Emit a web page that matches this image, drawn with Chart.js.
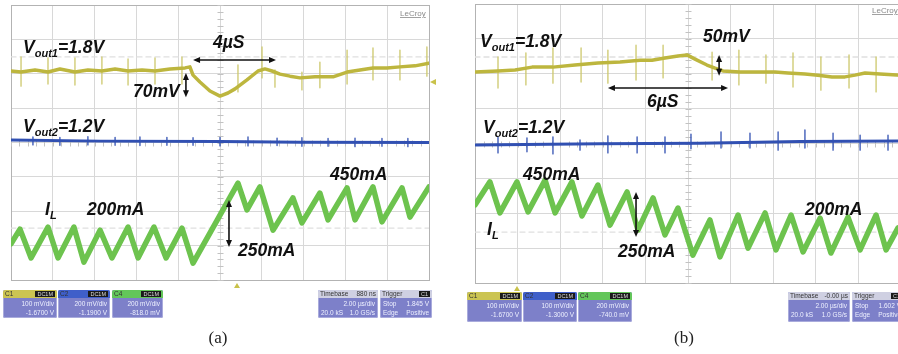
<!DOCTYPE html>
<html><head><meta charset="utf-8">
<script src="https://cdn.jsdelivr.net/npm/chart.js@4.4.1/dist/chart.umd.min.js"></script>
<style>
html,body{margin:0;padding:0;background:#fff;width:898px;height:354px;overflow:hidden;position:relative;font-family:"Liberation Sans",Arial,sans-serif;}
canvas{position:absolute;}
#ca{left:0;top:0;}
#cb{left:460px;top:0;}
#ov{position:absolute;left:0;top:0;}
.sb{position:absolute;background:#7d80c9;border-radius:2px;font-size:6.5px;color:#eef0ff;overflow:hidden;box-shadow:0 0 0 1px #a9abdc inset;}
.sb .hd{height:8px;display:flex;justify-content:space-between;align-items:center;padding:0 2px;color:#333;font-size:6.5px;line-height:8px;}
.sb .bd{padding:1px 3px 0 3px;line-height:9px;}
.sb .row{display:flex;justify-content:space-between;}
.badge{background:#1a1a1a;color:#ddd;padding:0 2px;font-size:5.5px;line-height:6px;}
</style></head>
<body>
<canvas id="ca" width="445" height="290"></canvas>
<canvas id="cb" width="450" height="292"></canvas>
<svg id="ov" width="898" height="354" xmlns="http://www.w3.org/2000/svg">
 <g font-family="Liberation Sans, Arial, sans-serif" font-weight="bold" font-style="italic" font-size="17.5" fill="#111">
  <text x="23" y="53">V<tspan font-size="11" dy="4">out1</tspan><tspan dy="-4">=1.8V</tspan></text>
  <text x="213" y="48">4µS</text>
  <text x="133" y="97">70mV</text>
  <text x="23" y="132">V<tspan font-size="11" dy="4">out2</tspan><tspan dy="-4">=1.2V</tspan></text>
  <text x="330" y="180">450mA</text>
  <text x="45" y="215">I<tspan font-size="11" dy="4">L</tspan></text>
  <text x="87" y="215">200mA</text>
  <text x="238" y="256">250mA</text>
  <text x="480" y="47">V<tspan font-size="11" dy="4">out1</tspan><tspan dy="-4">=1.8V</tspan></text>
  <text x="703" y="42">50mV</text>
  <text x="647" y="107">6µS</text>
  <text x="483" y="133">V<tspan font-size="11" dy="4">out2</tspan><tspan dy="-4">=1.2V</tspan></text>
  <text x="523" y="180">450mA</text>
  <text x="487" y="235">I<tspan font-size="11" dy="4">L</tspan></text>
  <text x="618" y="257">250mA</text>
  <text x="805" y="215">200mA</text>
 </g>
 <g font-family="Liberation Sans, Arial, sans-serif" font-size="8" fill="#8a8a8a" text-decoration="underline">
  <text x="400" y="16">LeCroy</text>
  <text x="872" y="13">LeCroy</text>
 </g>
 <g font-family="Liberation Serif, Times New Roman, serif" font-size="17" fill="#222" text-anchor="middle">
  <text x="218" y="343">(a)</text>
  <text x="684" y="343">(b)</text>
 </g>
 <polygon points="237,283 234,288 240,288" fill="#c9c24a"/>
 <polygon points="517,286 514,291 520,291" fill="#c9c24a"/>
 <polygon points="430,82 436,79 436,85" fill="#c9c24a"/>
</svg>

<script>
// ---------- DATA (x in µs, 2 µs/div; y in screen divisions 0..8) ----------
// Panel (a): load step 200mA -> 450mA
const ilA = [[0,1.05],[0.43,1.48],[0.96,0.64],[1.77,1.54],[2.25,0.64],[3.01,1.54],[3.49,0.52],[4.26,1.45],[4.83,0.64],[5.60,1.54],[6.08,0.64],[6.84,1.54],[7.42,0.64],[8.18,1.51],[8.71,0.49],[10.86,2.82],[11.29,2.04],[11.91,2.71],[12.54,1.45],[13.49,2.39],[13.92,1.66],[14.78,2.53],[15.17,1.75],[16.08,2.68],[16.46,1.75],[17.32,2.71],[17.75,1.69],[18.71,2.68],[19.09,1.83],[20.0,2.71]];
const v1A = [[0,6.08],[0.48,6.05],[1.15,6.11],[1.77,6.05],[2.34,6.14],[3.06,6.05],[3.68,6.11],[4.35,6.08],[4.98,6.14],[5.60,6.08],[6.27,6.11],[6.89,6.08],[7.61,6.14],[8.33,6.17],[8.56,6.20],[8.71,5.96],[9.04,5.76],[9.52,5.50],[10.0,5.35],[10.38,5.44],[10.72,5.56],[11.29,5.82],[11.82,6.08],[12.15,6.14],[12.49,6.08],[12.87,5.99],[13.35,5.93],[13.83,5.88],[14.55,5.91],[15.41,5.91],[16.08,6.05],[16.70,6.11],[17.32,6.17],[17.99,6.17],[18.61,6.20],[19.33,6.23],[20,6.31]];
const v1SpikesA = [[0.48,6.49,5.64],[1.77,6.46,5.70],[3.06,6.46,5.67],[4.35,6.49,5.70],[5.60,6.43,5.67],[6.89,6.46,5.70],[8.18,6.49,5.70],[10.86,6.26,5.47],[12.01,6.78,5.88],[12.63,6.11,5.61],[13.92,6.05,5.53],[14.78,6.34,5.59],[16.08,6.69,5.70],[17.32,6.75,5.82],[18.61,6.69,5.82],[19.90,6.78,5.93]];
const v2A = [[0,4.07],[4.26,4.04],[10.0,4.03],[13.83,4.01],[20,4.0]];
const v2SpikesA = [[1.05,4.16,3.93],[2.34,4.15,3.92],[3.68,4.17,3.93],[4.98,4.15,3.92],[6.17,4.16,3.91],[7.46,4.15,3.92],[8.71,4.14,3.92],[10.0,4.15,3.90],[11.34,4.16,3.90],[12.73,4.13,3.91],[13.92,4.14,3.89],[15.17,4.12,3.89],[16.46,4.13,3.88],[17.75,4.12,3.89],[18.99,4.12,3.88]];
const refA = [6.49, 1.51];
const arrowsA = [{x1:8.71,y1:6.40,x2:12.68,y2:6.40},{x1:8.37,y1:6.02,x2:8.37,y2:5.32},{x1:10.43,y1:2.33,x2:10.43,y2:0.96}];

// Panel (b): load step 450mA -> 200mA
const ilB = [[0,2.24],[0.70,2.90],[1.17,2.01],[1.97,2.90],[2.49,2.04],[3.29,2.95],[3.76,2.01],[4.55,2.90],[5.02,1.92],[5.77,2.81],[6.34,1.66],[7.14,2.61],[7.65,1.52],[8.36,2.44],[8.92,1.38],[9.53,2.15],[10.23,0.80],[11.03,1.81],[11.50,0.75],[12.35,1.95],[12.82,1.00],[13.62,2.01],[14.13,0.95],[14.84,1.95],[15.40,0.89],[16.20,1.86],[16.71,0.86],[17.51,1.89],[18.08,0.95],[18.83,1.95],[19.30,0.95],[19.86,1.58]];
const v1B = [[0,6.05],[1.08,6.08],[1.88,6.11],[2.68,6.19],[3.66,6.19],[4.69,6.25],[5.77,6.31],[6.81,6.34],[7.75,6.39],[8.31,6.39],[8.92,6.45],[9.53,6.51],[9.95,6.54],[10.33,6.42],[10.89,6.25],[11.27,6.16],[11.64,6.08],[12.44,6.05],[13.43,6.05],[14.08,6.05],[14.69,6.02],[15.49,5.99],[16.10,5.96],[16.76,5.91],[17.37,5.91],[17.84,5.96],[18.31,6.02],[19.01,5.99],[20,5.96]];
const v1SpikesB = [[1.08,6.48,5.59],[2.39,6.60,5.68],[3.66,6.74,5.73],[4.98,6.74,5.76],[6.24,6.68,5.73],[7.56,6.82,5.82],[8.83,6.82,5.88],[11.13,6.62,5.82],[12.39,6.68,5.68],[13.66,6.54,5.73],[14.93,6.60,5.62],[16.24,6.48,5.53],[17.56,6.54,5.59],[18.83,6.48,5.48]];
const v2B = [[0,3.96],[5.87,3.99],[10.56,4.01],[15.26,4.06],[20,4.07]];
const v2SpikesB = [[1.08,4.19,3.73],[2.44,4.16,3.76],[3.66,4.19,3.70],[4.93,4.10,3.81],[6.24,4.22,3.73],[7.61,4.19,3.73],[8.92,4.19,3.73],[10.14,4.27,3.85],[11.55,4.33,3.87],[12.91,4.30,3.87],[14.23,4.33,3.81],[15.49,4.39,3.87],[16.81,4.30,3.81],[18.08,4.24,3.81],[19.39,4.24,3.81]];
const refB = [6.48, 1.46];
const arrowsB = [{x1:11.46,y1:6.54,x2:11.46,y2:5.94},{x1:6.24,y1:5.59,x2:11.88,y2:5.59},{x1:7.56,y1:2.61,x2:7.56,y2:1.32}];

// status boxes
const boxesA = [
 {x:3,y:290,w:54,h:28,hc:'#cbc452',l:'C1',badge:'DC1M',rows:[['','100 mV/div'],['','-1.6700 V']]},
 {x:58,y:290,w:52,h:28,hc:'#3f5fc9',l:'C2',badge:'DC1M',rows:[['','200 mV/div'],['','-1.1900 V']]},
 {x:112,y:290,w:51,h:28,hc:'#63c65a',l:'C4',badge:'DC1M',rows:[['','200 mV/div'],['','-818.0 mV']]},
 {x:318,y:290,w:60,h:28,hc:'#cfd0e2',l:'Timebase',r:'880 ns',rows:[['','2.00 µs/div'],['20.0 kS','1.0 GS/s']]},
 {x:380,y:290,w:52,h:28,hc:'#cfd0e2',l:'Trigger',badge:'C1',rows:[['Stop','1.845 V'],['Edge','Positive']]}
];
const boxesB = [
 {x:467,y:292,w:55,h:30,hc:'#cbc452',l:'C1',badge:'DC1M',rows:[['','100 mV/div'],['','-1.6700 V']]},
 {x:523,y:292,w:54,h:30,hc:'#3f5fc9',l:'C2',badge:'DC1M',rows:[['','100 mV/div'],['','-1.3000 V']]},
 {x:578,y:292,w:54,h:30,hc:'#63c65a',l:'C4',badge:'DC1M',rows:[['','200 mV/div'],['','-740.0 mV']]},
 {x:788,y:292,w:62,h:30,hc:'#cfd0e2',l:'Timebase',r:'-0.00 µs',rows:[['','2.00 µs/div'],['20.0 kS','1.0 GS/s']]},
 {x:852,y:292,w:52,h:30,hc:'#cfd0e2',l:'Trigger',badge:'C1',rows:[['Stop','1.602 V'],['Edge','Positive']]}
];

// ---------- RENDER ----------
const GRID = '#d8d8d8', EDGE = '#b3b3b3';
const YEL = '#bdb63e', YEL2 = '#cdc86c', BLU = '#3150b2', GRN = '#6dc34e';

function pts(arr){ return arr.map(p => ({x:p[0], y:p[1]})); }
function spikePts(arr){ const o=[]; arr.forEach(s => { o.push({x:s[0],y:s[1]},{x:s[0],y:s[2]},{x:s[0],y:null}); }); return o; }

function drawArrow(ctx, x1, y1, x2, y2){
  const L = 7, W = 3;
  const a = Math.atan2(y2-y1, x2-x1);
  ctx.beginPath(); ctx.moveTo(x1 + Math.cos(a)*L*0.8, y1 + Math.sin(a)*L*0.8);
  ctx.lineTo(x2 - Math.cos(a)*L*0.8, y2 - Math.sin(a)*L*0.8); ctx.stroke();
  [[x1,y1,a+Math.PI],[x2,y2,a]].forEach(([px,py,an]) => {
    ctx.beginPath();
    ctx.moveTo(px, py);
    ctx.lineTo(px - Math.cos(an)*L + Math.sin(an)*W, py - Math.sin(an)*L - Math.cos(an)*W);
    ctx.lineTo(px - Math.cos(an)*L - Math.sin(an)*W, py - Math.sin(an)*L + Math.cos(an)*W);
    ctx.closePath(); ctx.fill();
  });
}

const scopePlugin = {
  id: 'scope',
  beforeDatasetsDraw(chart, args, opts){
    const {ctx, scales:{x, y}} = chart;
    ctx.save(); ctx.strokeStyle = '#c2c2c2'; ctx.lineWidth = 1;
    const cx = Math.round(x.getPixelForValue(10)) + 0.5, cy = Math.round(y.getPixelForValue(4)) + 0.5;
    for (let i = 0; i <= 40; i++) { const py = Math.round(y.getPixelForValue(i*0.2)) + 0.5; ctx.beginPath(); ctx.moveTo(cx-3, py); ctx.lineTo(cx+3, py); ctx.stroke(); }
    for (let i = 0; i <= 50; i++) { const px = Math.round(x.getPixelForValue(i*0.4)) + 0.5; ctx.beginPath(); ctx.moveTo(px, cy-3); ctx.lineTo(px, cy+3); ctx.stroke(); }
    ctx.restore();
  },
  afterDatasetsDraw(chart, args, opts){
    const {ctx, scales:{x, y}} = chart;
    ctx.save(); ctx.strokeStyle = '#111'; ctx.fillStyle = '#111'; ctx.lineWidth = 1.6;
    (opts.arrows || []).forEach(a => drawArrow(ctx, x.getPixelForValue(a.x1), y.getPixelForValue(a.y1), x.getPixelForValue(a.x2), y.getPixelForValue(a.y2)));
    ctx.restore();
  }
};

function gridOpts(min, max){
  return { drawTicks:false, lineWidth:1, color: c => (c.tick && (c.tick.value === min || c.tick.value === max)) ? EDGE : GRID };
}

function makeChart(id, pad, il, v1, v1s, v2, v2s, refs, arrows){
  const ds = [];
  ds.push({data: pts(v1), borderColor: YEL, borderWidth: 3.5, order: 1});
  ds.push({data: spikePts(v1s), borderColor: YEL2, borderWidth: 1.3, order: 2, spanGaps:false});
  ds.push({data: pts(v2), borderColor: BLU, borderWidth: 3, order: 3});
  ds.push({data: spikePts(v2s), borderColor: BLU, borderWidth: 1.3, order: 4, spanGaps:false});
  ds.push({data: pts(il), borderColor: GRN, borderWidth: 5.5, order: 5});
  refs.forEach((r, i) => ds.push({data: [{x:0,y:r},{x:20,y:r}], borderColor: '#e0e0e0', borderWidth: 1.4, borderDash: [5,4], order: 10+i}));
  return new Chart(document.getElementById(id), {
    type: 'line',
    data: { datasets: ds },
    plugins: [scopePlugin],
    options: {
      responsive: false, animation: false, events: [],
      layout: { padding: pad },
      elements: { line: { tension: 0, borderJoinStyle: 'round', borderCapStyle: 'round' }, point: { radius: 0 } },
      plugins: { legend: { display: false }, tooltip: { enabled: false }, scope: { arrows: arrows } },
      scales: {
        x: { type: 'linear', min: 0, max: 20, ticks: { display: false, stepSize: 2 }, grid: gridOpts(0, 20), border: { display: true, color: EDGE, width: 1 } },
        y: { type: 'linear', min: 0, max: 8, ticks: { display: false, stepSize: 1 }, grid: gridOpts(0, 8), border: { display: true, color: EDGE, width: 1 } }
      }
    }
  });
}

makeChart('ca', {left:11, top:5, right:16, bottom:10}, ilA, v1A, v1SpikesA, v2A, v2SpikesA, refA, arrowsA);
makeChart('cb', {left:15, top:4, right:9, bottom:9}, ilB, v1B, v1SpikesB, v2B, v2SpikesB, refB, arrowsB);

function makeBox(b){
  const d = document.createElement('div'); d.className = 'sb';
  Object.assign(d.style, {left: b.x+'px', top: b.y+'px', width: b.w+'px', height: b.h+'px'});
  const hd = document.createElement('div'); hd.className = 'hd'; hd.style.background = b.hc;
  const l = document.createElement('span'); l.textContent = b.l; hd.appendChild(l);
  if (b.badge) { const s = document.createElement('span'); s.className = 'badge'; s.textContent = b.badge; hd.appendChild(s); }
  else if (b.r) { const s = document.createElement('span'); s.textContent = b.r; hd.appendChild(s); }
  d.appendChild(hd);
  const bd = document.createElement('div'); bd.className = 'bd';
  b.rows.forEach(r => { const row = document.createElement('div'); row.className = 'row';
    const a = document.createElement('span'); a.textContent = r[0]; const c = document.createElement('span'); c.textContent = r[1];
    row.appendChild(a); row.appendChild(c); bd.appendChild(row); });
  d.appendChild(bd);
  document.body.appendChild(d);
}
boxesA.forEach(makeBox); boxesB.forEach(makeBox);
</script>
</body></html>
